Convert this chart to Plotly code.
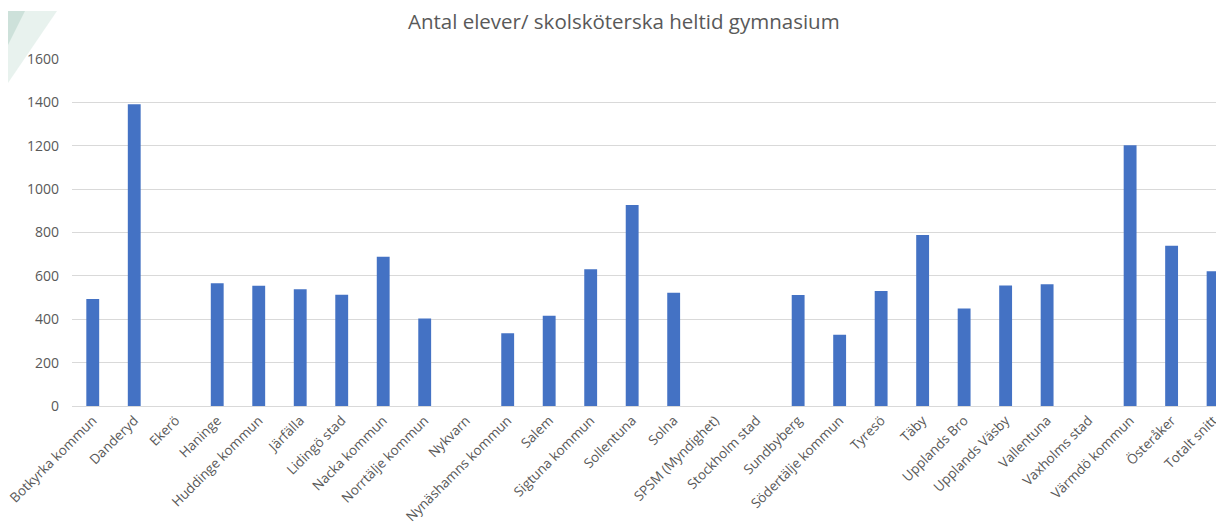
import plotly.graph_objects as go

categories = [
    "Botkyrka kommun", "Danderyd", "Ekerö", "Haninge", "Huddinge kommun",
    "Järfälla", "Lidingö stad", "Nacka kommun", "Norrtälje kommun", "Nykvarn",
    "Nynäshamns kommun", "Salem", "Sigtuna kommun", "Sollentuna", "Solna",
    "SPSM (Myndighet)", "Stockholm stad", "Sundbyberg", "Södertälje kommun",
    "Tyresö", "Täby", "Upplands Bro", "Upplands Väsby", "Vallentuna",
    "Vaxholms stad", "Värmdö kommun", "Österåker", "Totalt snitt",
]
values = [
    493, 1391, None, 566, 555,
    538, 513, 688, 404, None,
    335, 416, 630, 927, 522,
    None, None, 512, 329,
    530, 788, 450, 556, 561,
    None, 1202, 739, 621,
]
y_ticks = [0, 200, 400, 600, 800, 1000, 1200, 1400, 1600]
title_text = "Antal elever/ skolsköterska heltid gymnasium"

W, H = 1216, 522
L, R, T, B = 72, 0, 59, 116
pw, ph = W - L - R, H - T - B

def px(x):
    return (x - L) / pw

def py(y):
    return (H - B - y) / ph

fig = go.Figure(go.Bar(
    x=categories, y=values,
    marker=dict(color="#4472C4", line=dict(width=0)),
))

fig.update_layout(
    width=W, height=H,
    margin=dict(l=L, r=R, t=T, b=B, autoexpand=False),
    paper_bgcolor="white", plot_bgcolor="white",
    bargap=0.69,
    showlegend=False,
    title=dict(text=title_text, x=0.513, xanchor="center", y=0.958, yanchor="middle",
               font=dict(family="Open Sans", size=20.5, color="#595959")),
    font=dict(family="Open Sans", color="#595959"),
    shapes=[
        dict(type="path", xref="paper", yref="paper",
             path=f"M {px(8)},{py(11)} L {px(57)},{py(11)} L {px(8)},{py(83)} Z",
             fillcolor="rgba(210,230,222,0.5)", line=dict(width=0), layer="below"),
        dict(type="path", xref="paper", yref="paper",
             path=f"M {px(8)},{py(11)} L {px(25)},{py(11)} L {px(8)},{py(45)} Z",
             fillcolor="rgba(165,200,188,0.4)", line=dict(width=0), layer="below"),
    ],
)
fig.update_xaxes(
    type="category", range=[-0.5, 27.07], tickangle=-45, automargin=False,
    tickfont=dict(size=13.5, color="#595959"),
    showgrid=False, showline=False, ticks="", ticklabelstandoff=3,
)
fig.update_yaxes(
    range=[0, 1600], tickvals=y_ticks, automargin=False,
    tickfont=dict(size=14, color="#595959"),
    showgrid=True, gridcolor="#d9d9d9", gridwidth=1,
    zeroline=True, zerolinecolor="#d9d9d9", zerolinewidth=1,
    ticks="", ticklabelstandoff=12,
)

fig.write_html(
    "out.html",
    config={"displayModeBar": False},
    post_script="document.body.style.margin='0';document.body.style.overflow='hidden';",
)
